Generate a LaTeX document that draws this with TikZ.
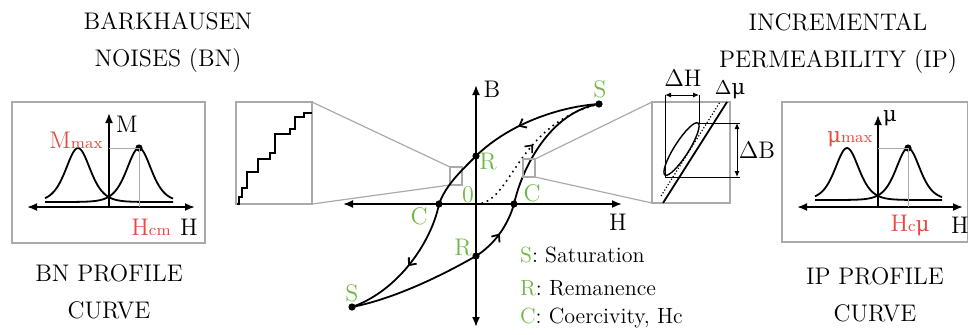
\documentclass[tikz,border=0pt]{standalone}
\usepackage{fontspec}
\usepackage{xcolor}
\newfontfamily\mufont{DejaVu Serif}
\newcommand{\umu}{{\mufont\fontsize{10.5}{12}\selectfont μ}}
\definecolor{hgreen}{RGB}{110,185,70}
\definecolor{hred}{RGB}{232,72,62}
\definecolor{zgray}{RGB}{170,170,170}
\usetikzlibrary{arrows.meta,decorations.markings}

\begin{document}
\begin{tikzpicture}[x=0.5pt,y=-0.5pt,font=\fontsize{12}{14}\selectfont,
  axis/.style={line width=0.9pt,{Latex[length=5pt,width=4pt]}-{Latex[length=5pt,width=4pt]}},
  upaxis/.style={line width=0.9pt,-{Latex[length=5pt,width=4pt]}},
  loopline/.style={line width=0.9pt},
  zoomline/.style={draw=zgray,line width=0.6pt},
  guide/.style={draw=zgray,line width=0.4pt},
  dimline/.style={line width=0.5pt},
  dot/.style={circle,fill,inner sep=0pt,minimum size=3.6pt},
  grn/.style={text=hgreen},
  rd/.style={text=hred},
  midarrow/.style={postaction={decorate,decoration={markings,
      mark=at position #1 with {\arrow{Straight Barb[length=3pt,width=5pt]}}}}},
  title/.style={align=center,font=\fontsize{12}{18.5}\selectfont}]
  \useasboundingbox (0,0) rectangle (968,334);

  % titles
  \node[title] (bntitle) at (168,42) {BARKHAUSEN\\NOISES (BN)};
  \node[title] (iptitle) at (838,43) {INCREMENTAL\\PERMEABILITY (IP)};
  \node[title] (bnprof) at (109,292) {BN PROFILE\\CURVE};
  \node[title] (ipprof) at (875,295) {IP PROFILE\\CURVE};

  % BN profile curve
  \draw[zoomline] (12,102) rectangle (205,243);
  \draw[axis] (27,207) -- (195,207);
  \draw[upaxis] (109,207) -- (109,113);
  \draw[loopline] plot[domain=45:173,samples=100] (\x,{202-54*(1/cosh((\x-78)/16.5))^2});
  \draw[loopline] plot[domain=45:173,samples=100] (\x,{202-54*(1/cosh((\x-139)/16.5))^2});
  \node[dot] (bnpk) at (139,148) {};
  \draw[guide] (109,148) -- (bnpk.center) -- (139,207);
  \node (bnM) at (127,124) {M};
  \node (bnH) at (189,227) {H};
  \node[rd] (bnMmax) at (76,140) {M{\footnotesize max}};
  \node[rd] (bnHcm) at (151,227) {H{\footnotesize cm}};

  % Barkhausen jumps
  \draw[zoomline] (236,102) rectangle (312,204);
  \draw[loopline] (237,204) -| (239,197) -| (242,188) -| (247,172) -| (258,159) -| (270,153)
    -| (275,134) -| (290,129) -| (295,117) -| (304,113) -- (312,113);
  \draw[zoomline] (450,167) rectangle (462,185);
  \draw[zoomline] (312,102) -- (450,167) (312,204) -- (450,185);

  % hysteresis loop
  \draw[axis] (343,204) -- (622,204);
  \draw[axis] (476,327) -- (476,85);
  \node[dot] (Stop) at (599,104) {};
  \node[dot] (Rtop) at (476,156) {};
  \node[dot] (Cleft) at (439,204) {};
  \node[dot] (Sbot) at (352,307) {};
  \node[dot] (Rbot) at (476,256) {};
  \node[dot] (Cright) at (514,204) {};
  \coordinate (O) at (476,204);
  \draw[loopline,midarrow=0.62] (Stop.center) .. controls (565,106) and (512,121) .. (Rtop.center);
  \draw[loopline] (Rtop.center) .. controls (460,172) and (446,185) .. (Cleft.center);
  \draw[loopline,midarrow=0.5] (Cleft.center) .. controls (432,240) and (400,290) .. (Sbot.center);
  \draw[loopline] (Sbot.center) .. controls (398,298) and (448,272) .. (Rbot.center);
  \draw[loopline,midarrow=0.5] (Rbot.center) .. controls (495,244) and (508,225) .. (Cright.center);
  \draw[loopline] (Cright.center) .. controls (522,168) and (550,112) .. (Stop.center);
  \draw[dotted,line width=0.8pt,midarrow=0.52] (O) .. controls (512,204) and (515,125) .. (Stop.center);
  \node (Blab) at (492,89) {B};
  \node (Hlab) at (618,222) {H};
  \node[grn] (Slab1) at (600,89) {S};
  \node[grn] (Rlab1) at (488,162) {R};
  \node[grn] (Olab) at (468,195) {0};
  \node[grn] (Clab1) at (532,193) {C};
  \node[grn] (Clab2) at (419,216) {C};
  \node[grn] (Rlab2) at (463,248) {R};
  \node[grn] (Slab2) at (352,293) {S};
  \node[anchor=base west,font=\fontsize{11}{13}\selectfont] (legS) at (513,262) {\textcolor{hgreen}{S}: Saturation};
  \node[anchor=base west,font=\fontsize{11}{13}\selectfont] (legR) at (513,295) {\textcolor{hgreen}{R}: Remanence};
  \node[anchor=base west,font=\fontsize{11}{13}\selectfont] (legC) at (513,323) {\textcolor{hgreen}{C}: Coercivity, Hc};

  % minor loop
  \draw[zoomline] (523,159) rectangle (535,177);
  \draw[zoomline] (535,159) -- (652,102) (535,177) -- (652,203);
  \draw[zoomline] (652,102) rectangle (730,203);
  \draw[dimline] (665,95) -- (665,177) -- (740,177);
  \draw[dimline] (699,95) -- (699,123) -- (740,123);
  \draw[dimline,{Latex[length=3pt,width=2.5pt]}-{Latex[length=3pt,width=2.5pt]}] (665,95) -- (699,95);
  \draw[dimline,{Latex[length=3pt,width=2.5pt]}-{Latex[length=3pt,width=2.5pt]}] (737,123) -- (737,177);
  \draw[loopline,line width=0.7pt] (681.5,149) ellipse [x radius=15.4pt,y radius=3.6pt,rotate=57.6];
  \draw[loopline] (663,203) -- (727,102);
  \draw[densely dotted,line width=0.6pt] (661,196) -- (720,102);
  \node (dH) at (683,78) {$\Delta$H};
  \node (dB) at (757,150) {$\Delta$B};
  \node[font=\fontsize{10}{12}\selectfont] (dmu) at (730,90) {$\Delta$\umu};

  % IP profile curve
  \draw[zoomline] (782,102) rectangle (967.5,242);
  \draw[axis] (797,207) -- (963,207);
  \draw[upaxis] (878,207) -- (878,115);
  \draw[loopline] plot[domain=815:942,samples=100] (\x,{200-52*(1/cosh((\x-847)/16))^2});
  \draw[loopline] plot[domain=815:942,samples=100] (\x,{200-52*(1/cosh((\x-908)/16))^2});
  \node[dot] (ippk) at (908,148) {};
  \draw[guide] (878,148) -- (ippk.center) -- (908,207);
  \node (ipmu) at (890,118) {\umu};
  \node (ipH) at (960,225) {H};
  \node[rd] (ipmax) at (850,139) {\umu{\footnotesize max}};
  \node[rd] (ipHc) at (910,225) {H{\footnotesize c\umu}};
\end{tikzpicture}
\end{document}
